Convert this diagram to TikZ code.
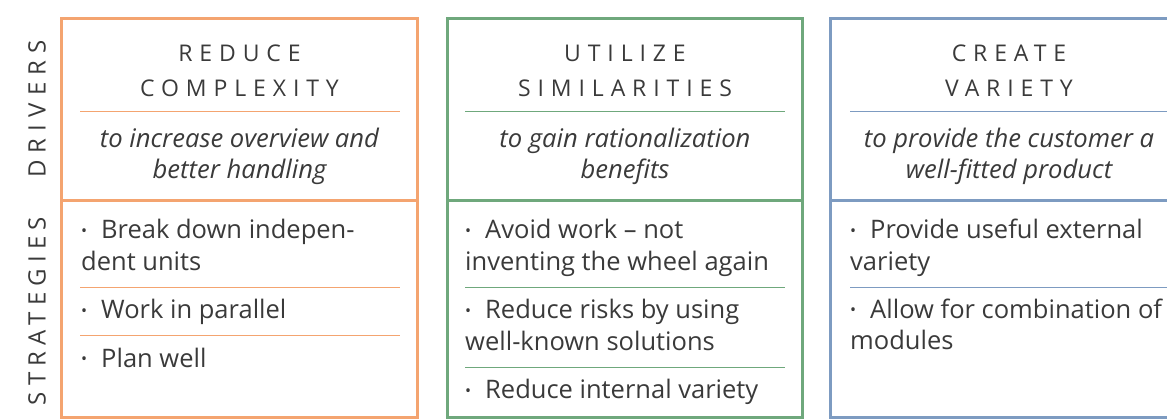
\documentclass[tikz,border=0pt]{standalone}
\usepackage{fontspec}
\setmainfont{Open Sans}
\definecolor{cOr}{HTML}{F4A470}
\definecolor{cGr}{HTML}{6FA87C}
\definecolor{cBl}{HTML}{7D9BC1}
\definecolor{cTx}{HTML}{3A3A3A}
\newcommand{\spaced}{\addfontfeature{LetterSpace=30}}
\newcommand{\bul}{\raisebox{2.5pt}{\fontsize{16}{16}\selectfont\textbullet}\hspace{14pt}}
\tikzset{
  frame/.style={line width=3pt},
  sep/.style={line width=0.9pt},
  title/.style={text=cTx, align=center, font=\fontsize{23}{35}\selectfont\spaced, inner sep=0pt},
  sub/.style={text=cTx, align=center, font=\fontsize{25.6}{31}\selectfont\itshape, inner sep=0pt},
  item/.style={text=cTx, align=left, font=\fontsize{25.5}{32}\selectfont, inner sep=0pt, anchor=base west},
  side/.style={text=cTx, rotate=90, font=\fontsize{24}{24}\selectfont\spaced, inner sep=0pt}
}
\begin{document}
\begin{tikzpicture}[x=1pt,y=-1pt]
\useasboundingbox (0,0) rectangle (1167,419);
\clip (0,0) rectangle (1167,419);
% side labels
\node[side] (drv) at (37,109) {DRIVERS};
\node[side] (str) at (37,311) {\addfontfeature{LetterSpace=26}STRATEGIES};
% box 1
\draw[frame,cOr] (61.5,18.5) rectangle (417.5,417);
\draw[frame,cOr] (61.5,200.5) -- (417.5,200.5);
\draw[sep,cOr] (80,111) -- (400,111);
\draw[sep,cOr] (80,287) -- (400,287);
\draw[sep,cOr] (80,335) -- (400,335);
\node[title] (t1) at (239.5,71) {REDUCE\\COMPLEXITY};
\node[sub] (s1) at (239.5,156) {to increase overview and\\better handling};
\node[item] (a1) at (81,271) {\bul Break down indepen-\\dent units};
\node[item] (a2) at (81,319) {\bul Work in parallel};
\node[item] (a3) at (81,367) {\bul Plan well};
% box 2
\draw[frame,cGr] (447.5,18.5) rectangle (802.5,417);
\draw[frame,cGr] (447.5,200.5) -- (802.5,200.5);
\draw[sep,cGr] (465,111) -- (785,111);
\draw[sep,cGr] (465,287) -- (785,287);
\draw[sep,cGr] (465,367) -- (785,367);
\node[title] (t2) at (625,71) {UTILIZE\\SIMILARITIES};
\node[sub] (s2) at (625,156) {to gain rationalization\\benefits};
\node[item] (b1) at (465,271) {\bul Avoid work -- not\\inventing the wheel again};
\node[item] (b2) at (465,351) {\bul Reduce risks by using\\well-known solutions};
\node[item] (b3) at (465,399) {\bul Reduce internal variety};
% box 3
\draw[frame,cBl] (830.5,18.5) rectangle (1190,417);
\draw[frame,cBl] (830.5,200.5) -- (1190,200.5);
\draw[sep,cBl] (850,111) -- (1190,111);
\draw[sep,cBl] (850,287) -- (1190,287);
\node[title] (t3) at (1009,71) {CREATE\\VARIETY};
\node[sub] (s3) at (1009,156) {to provide the customer a\\well-fitted product};
\node[item] (c1) at (850,271) {\bul Provide useful external\\variety};
\node[item] (c2) at (850,350) {\bul Allow for combination of\\modules};
\end{tikzpicture}
\end{document}
